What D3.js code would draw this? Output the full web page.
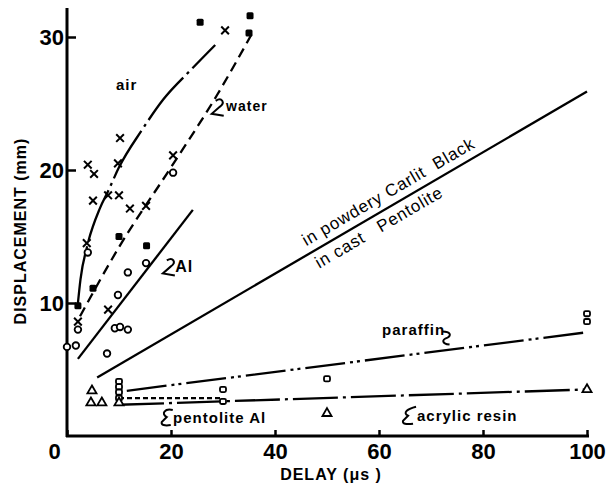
<!DOCTYPE html>
<html>
<head>
<meta charset="utf-8">
<script src="https://cdn.jsdelivr.net/npm/d3@7/dist/d3.min.js"></script>
<style>
  body { margin: 0; background: #fff; }
  text { font-family: "Liberation Sans", Arial, sans-serif; fill: #000; white-space: pre; }
</style>
</head>
<body>
<script>
// ---- data (delay in us, displacement in mm) ----
var airPts = [[4.0,20.4],[5.2,19.7],[10.2,22.4],[9.8,20.5],[20.4,21.1],[5.0,17.7],[7.9,18.1],
              [10.0,18.1],[12.1,17.1],[15.2,17.3],[3.8,14.5],[7.9,9.5],[2.1,8.6],[30.4,30.5]];
var waterPts = [[25.6,31.1],[35.2,31.6],[35.0,30.3],[10.0,15.0],[15.3,14.3],[5.0,11.1],[2.1,9.8]];
var alPts = [[20.4,19.8],[4.0,13.8],[15.2,13.0],[11.7,12.3],[9.8,10.6],[9.2,8.1],[10.2,8.2],
             [11.7,8.0],[2.1,8.0],[0,6.7],[1.7,6.8],[7.7,6.2]];
var paraffinPts = [[10,4.1],[10,3.7],[10,3.3],[30,3.5],[50,4.3],[100,9.2],[100,8.6]];
var pentAlPts = [[10,2.85],[30,2.6]];
var acrylicPts = [[4.8,3.4],[4.6,2.5],[6.7,2.5],[10,2.5],[50,1.7],[100,3.5]];

// fitted curves drawn in the figure
var airLine = [[2.0,9.6],[2.6,11.8],[3.9,14.3],[6.3,17.1],[7.9,18.4],[10,20.2],
               [14.4,23.0],[18.5,25.3],[24,27.6],[28.5,29.4]];
var waterLine = [[2.5,9.0],[10,14.2],[20,20.2],[28.8,25.6],[35.5,30.2]];
var alLine = [[2.1,5.8],[24.2,17.0]];
var carlitLine = [[5.8,4.4],[100,25.9]];
var paraffinLine = [[11.5,3.4],[100,7.8]];
var acrylicLine = [[10,2.35],[100,3.5]];
var pentAlLine = [[10,2.85],[30,2.85]];

var xTicks = [0,20,40,60,80,100];
var yTicks = [10,20,30];

var W = 606, H = 486;
var svg = d3.select("body").append("svg").attr("width", W).attr("height", H);

var x = d3.scaleLinear().domain([0,100]).range([67,587]);
var y = d3.scaleLinear().domain([0,30]).range([436,37]);

// axes
var yAxis = d3.axisLeft(y).tickValues(yTicks).tickSizeInner(-9).tickSizeOuter(0).tickPadding(3);
var gy = svg.append("g").attr("transform", "translate(" + x(0) + ",0)").call(yAxis);
gy.select(".domain").remove();
gy.selectAll(".tick line").attr("stroke", "#000").attr("stroke-width", 2.5);
gy.selectAll(".tick text").style("font-size", "22px").style("font-weight", "bold");

var xAxis = d3.axisBottom(x).tickValues(xTicks).tickSizeInner(-6).tickSizeOuter(0);
var gx = svg.append("g").attr("transform", "translate(0," + y(0) + ")").call(xAxis);
gx.select(".domain").remove();
gx.selectAll(".tick line").attr("stroke", "#000").attr("stroke-width", 2.5);
gx.selectAll(".tick text").style("font-size", "22px").style("font-weight", "bold")
  .attr("y", 23).attr("dy", 0)
  .attr("dx", function(d) { return d === 0 ? -13 : 0; });

svg.append("line").attr("x1", x(0)).attr("x2", x(0)).attr("y1", y(0) + 1).attr("y2", 8)
  .attr("stroke", "#000").attr("stroke-width", 3);
svg.append("line").attr("x1", x(0) - 1).attr("x2", x(100) + 2).attr("y1", y(0)).attr("y2", y(0))
  .attr("stroke", "#000").attr("stroke-width", 3);

svg.append("text").attr("x", 331).attr("y", 480).attr("text-anchor", "middle")
  .style("font-size", "16px").style("font-weight", "bold").style("letter-spacing", "1px")
  .text("DELAY (\u03bcs )");
svg.append("text").attr("transform", "translate(26,231) rotate(-90)").attr("text-anchor", "middle")
  .style("font-size", "16px").style("font-weight", "bold").style("letter-spacing", "1px")
  .text("DISPLACEMENT (mm)");

// lines
var line = d3.line().x(function(d) { return x(d[0]); }).y(function(d) { return y(d[1]); });
function drawLine(data, dash, curve) {
  svg.append("path").datum(data)
    .attr("d", line.curve(curve || d3.curveLinear))
    .attr("fill", "none").attr("stroke", "#000").attr("stroke-width", 2.3)
    .attr("stroke-dasharray", dash || null);
}
drawLine(airLine, "55,5,3,5", d3.curveMonotoneX);
drawLine(waterLine, "10,6", d3.curveMonotoneX);
drawLine(alLine);
drawLine(carlitLine);
drawLine(paraffinLine, "40,5,3,4,3,5");
drawLine(acrylicLine, "45,5,3,5");
drawLine(pentAlLine, "5,3");

// markers
function px(d) { return x(d[0]); }
function py(d) { return y(d[1]); }
var cross = d3.symbol().type(d3.symbolX).size(40);
svg.append("g").selectAll("path").data(airPts).enter().append("path")
  .attr("d", cross).attr("transform", function(d) { return "translate(" + px(d) + "," + py(d) + ")"; })
  .attr("fill", "none").attr("stroke", "#000").attr("stroke-width", 2);
svg.append("g").selectAll("rect").data(waterPts).enter().append("rect")
  .attr("x", function(d) { return px(d) - 3.5; }).attr("y", function(d) { return py(d) - 3.5; })
  .attr("width", 7).attr("height", 7).attr("rx", 1.5).attr("fill", "#000");
svg.append("g").selectAll("circle").data(alPts).enter().append("circle")
  .attr("cx", px).attr("cy", py).attr("r", 3.3)
  .attr("fill", "#fff").attr("stroke", "#000").attr("stroke-width", 1.8);
svg.append("g").selectAll("rect").data(paraffinPts.concat(pentAlPts)).enter().append("rect")
  .attr("x", function(d) { return px(d) - 3; }).attr("y", function(d) { return py(d) - 2.6; })
  .attr("width", 6).attr("height", 5.2).attr("rx", 1.5)
  .attr("fill", "#fff").attr("stroke", "#000").attr("stroke-width", 1.8);
var tri = d3.symbol().type(d3.symbolTriangle).size(36);
svg.append("g").selectAll("path").data(acrylicPts).enter().append("path")
  .attr("d", tri).attr("transform", function(d) { return "translate(" + px(d) + "," + py(d) + ")"; })
  .attr("fill", "#fff").attr("stroke", "#000").attr("stroke-width", 1.8);

// labels
function label(X, Y, s, size) {
  svg.append("text").attr("x", x(X)).attr("y", y(Y))
    .style("font-size", (size || 15) + "px").style("font-weight", "bold")
    .style("letter-spacing", "1px").text(s);
}
function squiggle(X, Y, d) {
  svg.append("path").attr("transform", "translate(" + x(X) + "," + y(Y) + ")").attr("d", d)
    .attr("fill", "none").attr("stroke", "#000").attr("stroke-width", 2);
}
var hook = "M0,-8 C6,-12 10,-6 4,-2 L-4,5 L8,7";
label(9.4, 26.0, "air", 15);
squiggle(28.6, 24.6, hook);
label(30.6, 24.4, "water", 14);
squiggle(19.2, 12.6, hook);
label(20.8, 12.3, "Al", 16);
squiggle(18.8, 1.2, "M8,-10 C0,-12 -4,-6 2,-3 L-3,2 C-4,5 0,6 6,5");
label(20.4, 1.0, "pentolite Al", 15);
squiggle(65.2, 1.3, "M10,-12 C2,-10 -4,-6 2,-3 L-3,2 C-4,5 0,6 7,5");
label(67.3, 1.1, "acrylic resin", 15);
label(60.6, 7.6, "paraffin", 15);
squiggle(72.8, 7.7, "M-3,-2 C5,-2 6,2 2,4 C-4,6 -4,10 4,11");

// text along the Carlit line
var ang = Math.atan2(y(carlitLine[1][1]) - y(carlitLine[0][1]), x(carlitLine[1][0]) - x(carlitLine[0][0])) * 180 / Math.PI;
function alongLabel(f, dy, s) {
  var X = carlitLine[0][0] + f * (carlitLine[1][0] - carlitLine[0][0]);
  var Y = carlitLine[0][1] + f * (carlitLine[1][1] - carlitLine[0][1]);
  svg.append("text").attr("transform", "translate(" + x(X) + "," + y(Y) + ") rotate(" + ang + ")")
    .attr("y", dy).style("font-size", "17px").style("letter-spacing", "0.8px").text(s);
}
alongLabel(0.435, -8, "in powdery Carlit  Black");
alongLabel(0.435, 18, "in cast   Pentolite");
</script>
</body>
</html>
